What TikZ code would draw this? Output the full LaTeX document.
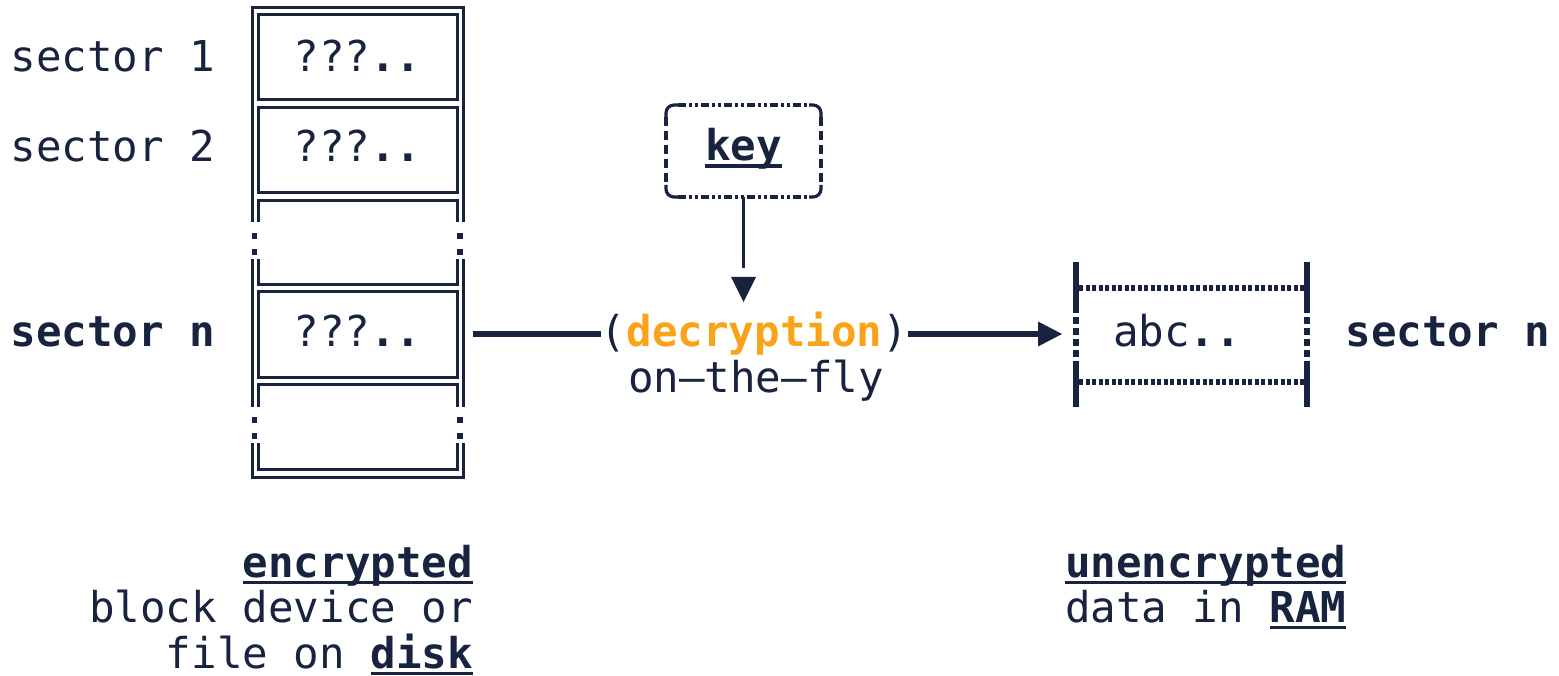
\documentclass[tikz,border=0pt]{standalone}
\usepackage{fontspec}
\newfontfamily\mono{DejaVu Sans Mono}
\usetikzlibrary{calc}
\definecolor{ink}{HTML}{17233F}
\definecolor{amber}{HTML}{FBA318}
% bold word with a flat underline crossing the descenders
\newcommand\ulbf[1]{{\setbox0\hbox{\bfseries #1}\rlap{\rule[-6.8pt]{\wd0}{3.3pt}}\box0}}
\begin{document}
\begin{tikzpicture}[x=1pt,y=-1pt,
  every node/.style={inner sep=0pt, outer sep=0pt, text=ink,
    font=\mono\fontsize{42.5}{46}\selectfont},
  diskline/.style={draw=ink, line width=3pt},
  thickline/.style={draw=ink, line width=6.5pt},
  dotrule/.style={draw=ink, line width=6pt, dash pattern=on 4pt off 2.5pt},
  colonrule/.style={draw=ink, line width=6pt, dash pattern=on 7pt off 4pt},
  keyedge/.style={draw=ink, line width=3.2pt},
  keyh/.style={keyedge, dash pattern=on 8pt off 3pt on 3pt off 3pt on 3pt off 3pt},
  keyv/.style={keyedge, dash pattern=on 9pt off 5pt},
  dotsq/.style={fill=ink}]
\useasboundingbox (0,0) rectangle (1559,676);

% ---- left labels
\node[anchor=base west] (s1) at (10.5,72) {sector 1};
\node[anchor=base west] (s2) at (10.5,162) {sector 2};
\node[anchor=base west] (sn) at (10.5,347) {\bfseries sector n};

% ---- disk: outer double frame, broken at the elided rows
\draw[diskline] (252,222) -- (252,8) -- (463,8) -- (463,222);
\draw[diskline] (252,259) -- (252,407);
\draw[diskline] (463,259) -- (463,407);
\draw[diskline] (252,443) -- (252,477) -- (463,477) -- (463,443);
% inner sector cells
\draw[diskline] (258,15) rectangle (457,100);
\draw[diskline] (258,108) rectangle (457,193);
\draw[diskline] (258,222) -- (258,201) -- (457,201) -- (457,222);
\draw[diskline] (258,259) -- (258,285) -- (457,285) -- (457,259);
\draw[diskline] (258,292) rectangle (457,378);
\draw[diskline] (258,407) -- (258,385) -- (457,385) -- (457,407);
\draw[diskline] (258,443) -- (258,469) -- (457,469) -- (457,443);
% elision dots
\foreach \yy in {236,252,420,436}{
  \fill[dotsq] (251.8,\yy-2.8) rectangle (257.4,\yy+2.8);
  \fill[dotsq] (457.3,\yy-2.8) rectangle (462.9,\yy+2.8);
}
\node[anchor=base] (c1) at (357.5,72) {???\textbf{..}};
\node[anchor=base] (c2) at (357.5,162) {???\textbf{..}};
\node[anchor=base] (cn) at (357.5,347) {???\textbf{..}};

% ---- key
\node[minimum width=155pt, minimum height=92pt] (key) at (743.5,151) {};
\node[anchor=base] (keytxt) at (743.5,161) {\ulbf{key}};
\draw[keyedge, rounded corners=8pt] ($(key.north west)+(0,12)$) -- (key.north west) -- ($(key.north west)+(12,0)$);
\draw[keyedge, rounded corners=8pt] ($(key.north east)+(-12,0)$) -- (key.north east) -- ($(key.north east)+(0,12)$);
\draw[keyedge, rounded corners=8pt] ($(key.south west)+(0,-12)$) -- (key.south west) -- ($(key.south west)+(12,0)$);
\draw[keyedge, rounded corners=8pt] ($(key.south east)+(-12,0)$) -- (key.south east) -- ($(key.south east)+(0,-12)$);
\draw[keyh] ($(key.north west)+(12,0)$) -- ($(key.north east)+(-12,0)$);
\draw[keyh] ($(key.south west)+(12,0)$) -- ($(key.south east)+(-12,0)$);
\draw[keyv] ($(key.north west)+(0,12)$) -- ($(key.south west)+(0,-12)$);
\draw[keyv] ($(key.north east)+(0,12)$) -- ($(key.south east)+(0,-12)$);

% ---- decryption step
\node[anchor=base] (dec) at (754.5,347) {(\textcolor{amber}{\bfseries decryption})};
\node[anchor=base] (fly) at (756,392) {on–the–fly};

\coordinate (keyend) at (743.5,268);
\draw[keyedge] (key.south) -- (keyend);
\fill[ink] (731,277) -- (756,277) -- (743.5,302) -- cycle;

\coordinate (diskR) at (473,334);
\coordinate (ramL) at (1062,334);
\draw[thickline] (diskR) -- (diskR -| dec.west);
\draw[thickline, shorten >=22pt] (dec.east |- diskR) -- (ramL);
\fill[ink] (1038,321.5) -- (ramL) -- (1038,346.5) -- cycle;

% ---- RAM cell
\draw[draw=ink, line width=6pt] (1076,262) -- (1076,306) (1076,362) -- (1076,407);
\draw[draw=ink, line width=6pt] (1307,262) -- (1307,306) (1307,362) -- (1307,407);
\draw[colonrule] (1076,306) -- (1076,362);
\draw[colonrule] (1307,306) -- (1307,362);
\draw[dotrule] (1079,288) -- (1304,288);
\draw[dotrule] (1079,382) -- (1304,382);
\node[anchor=base] (abc) at (1177,347) {abc\textbf{..}};
\node[anchor=base west] (snR) at (1345.5,347) {\bfseries sector n};

% ---- captions
\node[anchor=base east] (enc1) at (473,577) {\ulbf{encrypted}};
\node[anchor=base east] (enc2) at (473,622.5) {block device or};
\node[anchor=base east] (enc3) at (473,668) {file on \ulbf{disk}};
\node[anchor=base west] (ram1) at (1065,577) {\ulbf{unencrypted}};
\node[anchor=base west] (ram2) at (1065,622.5) {data in \ulbf{RAM}};
\end{tikzpicture}
\end{document}
